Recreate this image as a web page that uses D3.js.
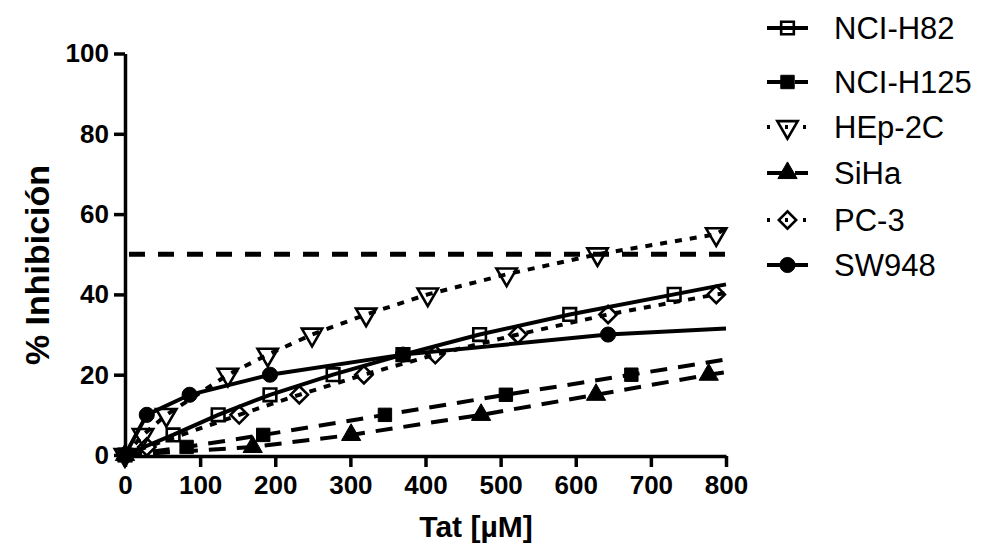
<!DOCTYPE html>
<html>
<head>
<meta charset="utf-8">
<script src="https://cdn.jsdelivr.net/npm/d3@7"></script>
<style>
	body { margin: 0; background: #fff; }
	svg { display: block; font-family: "Liberation Sans", Arial, sans-serif; }
</style>
</head>
<body>
<svg id="chart" width="982" height="554"></svg>
<script>
// data
var seriesNames = ['NCI-H82', 'NCI-H125', 'HEp-2C', 'SiHa', 'PC-3', 'SW948'];

var h82X = [0, 64, 124, 193, 277, 370, 472, 592, 731];
var h82Y = [0, 5, 10, 15, 20, 25, 30, 35, 40];

var h125X = [0, 82, 184, 346, 507, 674];
var h125Y = [0, 2, 5, 10, 15, 20];

var hep2cX = [0, 24, 55, 137, 190, 249, 321, 403, 508, 629, 787];
var hep2cY = [0, 5, 10, 20, 25, 30, 35, 40, 45, 50, 55];

var sihaX = [0, 170, 301, 474, 627, 777];
var sihaY = [0, 2, 5, 10, 15, 20];

var pc3X = [0, 29, 152, 232, 318, 413, 523, 643, 787];
var pc3Y = [0, 2, 10, 15, 20, 25, 30, 35, 40];

var sw948X = [0, 29, 86, 193, 370, 643];
var sw948Y = [0, 10, 15, 20, 25, 30];

// where each line meets x = 800
var lineEnd = [42.5, 23.8, 56.5, 20.6, 40.3, 31.5];

var refLine = 50;
var xTicks = [0, 100, 200, 300, 400, 500, 600, 700, 800];
var yTicks = [0, 20, 40, 60, 80, 100];

var svg = d3.select('#chart');

var x = d3.scaleLinear().domain([0, 800]).range([125, 726]);
var y = d3.scaleLinear().domain([0, 100]).range([455, 53.5]);

var xs = [h82X, h125X, hep2cX, sihaX, pc3X, sw948X];
var ys = [h82Y, h125Y, hep2cY, sihaY, pc3Y, sw948Y];

var dashes = [null, '17,11', '7,8', '17,11', '7,8', null];
var legendDash = [null, '17,11', '3,15', '17,11', '3,15', null];
var shapes = [d3.symbolSquare, d3.symbolSquare, d3.symbolTriangle, d3.symbolTriangle, d3.symbolSquare, d3.symbolCircle];
var sizes = [160, 180, 180, 160, 150, 180];
var filled = [false, true, false, true, false, true];
var rotate = [0, 0, 180, 0, 45, 0];

var series = seriesNames.map(function (name, i) {
	return {
		name: name,
		points: xs[i].map(function (v, j) { return {x: v, y: ys[i][j]}; }),
		end: lineEnd[i],
		i: i
	};
});

// axes
var yAxis = svg.append('g')
	.attr('transform', 'translate(125,0)')
	.call(d3.axisLeft(y).tickValues(yTicks).tickSize(11).tickSizeOuter(0).tickPadding(5));

var xAxis = svg.append('g')
	.attr('transform', 'translate(0,456)')
	.call(d3.axisBottom(x).tickValues(xTicks).tickSize(11).tickSizeOuter(0).tickPadding(9));

[xAxis, yAxis].forEach(function (g) {
	g.select('.domain').attr('stroke', '#000').attr('stroke-width', 3.5);
	g.selectAll('.tick line').attr('stroke', '#000').attr('stroke-width', 3.5);
	g.selectAll('.tick text')
		.attr('fill', '#000')
		.style('font-size', '26px')
		.style('font-weight', 'bold')
		.style('font-family', '"Liberation Sans", Arial, sans-serif');
});

svg.append('text')
	.attr('x', 476)
	.attr('y', 537)
	.attr('text-anchor', 'middle')
	.style('font-size', '30px')
	.style('font-weight', 'bold')
	.text('Tat [µM]');

svg.append('text')
	.attr('transform', 'translate(49,265) rotate(-90)')
	.attr('text-anchor', 'middle')
	.style('font-size', '34px')
	.style('font-weight', 'bold')
	.text('% Inhibición');

// 50 % reference line
svg.append('line')
	.attr('x1', x(0) + 4)
	.attr('x2', x(800))
	.attr('y1', y(refLine))
	.attr('y2', y(refLine))
	.attr('stroke', '#000')
	.attr('stroke-width', 5)
	.attr('stroke-dasharray', '16,13');

var line = d3.line()
	.x(function (d) { return x(d.x); })
	.y(function (d) { return y(d.y); });

function marker(sel, s) {
	sel.attr('d', d3.symbol().type(shapes[s.i]).size(sizes[s.i]))
		.attr('fill', filled[s.i] ? '#000' : 'none')
		.attr('stroke', '#000')
		.attr('stroke-width', filled[s.i] ? 1 : 2.6);
}

series.forEach(function (s) {
	var pts = s.points.concat([{x: 800, y: s.end}]);
	svg.append('path')
		.attr('d', line(pts))
		.attr('fill', 'none')
		.attr('stroke', '#000')
		.attr('stroke-width', 4)
		.attr('stroke-dasharray', dashes[s.i]);
});

series.forEach(function (s) {
	svg.append('g').selectAll('path')
		.data(s.points)
		.enter()
		.append('path')
		.attr('transform', function (d) {
			return 'translate(' + x(d.x) + ',' + y(d.y) + ') rotate(' + rotate[s.i] + ')';
		})
		.call(marker, s);
});

// legend
var legendY = [28, 82, 127, 173, 220, 265];

var legend = svg.append('g');

series.forEach(function (s) {
	var row = legend.append('g').attr('transform', 'translate(0,' + legendY[s.i] + ')');

	row.append('line')
		.attr('x1', 767)
		.attr('x2', 808)
		.attr('stroke', '#000')
		.attr('stroke-width', 4)
		.attr('stroke-dasharray', legendDash[s.i]);

	row.append('path')
		.attr('transform', 'translate(787.5,0) rotate(' + rotate[s.i] + ')')
		.call(marker, s);

	row.append('text')
		.attr('x', 834)
		.attr('y', 11)
		.style('font-size', '31px')
		.text(s.name);
});
</script>
</body>
</html>
